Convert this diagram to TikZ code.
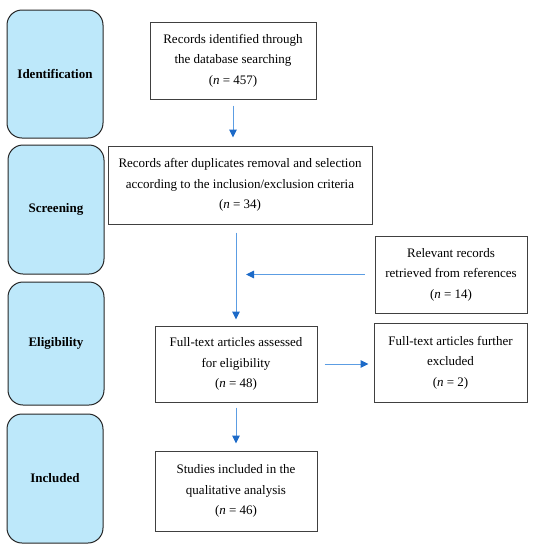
\documentclass[tikz,border=0pt]{standalone}
\usepackage{fontspec}
\setmainfont{Liberation Serif}
\usetikzlibrary{arrows.meta}
\definecolor{stagefill}{HTML}{BDE8FA}
\definecolor{flowblue}{HTML}{5C9DE3}
\definecolor{flowdark}{HTML}{1C6AC8}
\begin{document}
\begin{tikzpicture}[
      x=1pt,y=-1pt,
      every node/.style={font=\fontsize{13}{20.5}\selectfont},
      stage/.style={draw=black!85,fill=stagefill,rounded corners=15pt,line width=1pt,
        minimum width=96pt,font=\fontsize{13}{20.5}\selectfont\bfseries},
      recbox/.style={draw=black!75,line width=1pt,align=center,inner sep=0pt},
      flow/.style={draw=flowblue,line width=1pt,-{Triangle[length=8pt,width=7.5pt,color=flowdark]}}
    ]
    \useasboundingbox (0,0) rectangle (538,550);
    \node[stage,minimum height=128pt] (ident) at (55,74) {Identification};
    \node[stage,minimum height=129pt] (screen) at (56,209.5) {Screening};
    \node[stage,minimum height=123pt] (elig) at (56,343.5) {Eligibility};
    \node[stage,minimum height=129pt] (incl) at (55,478.5) {Included};

    \node[recbox,minimum width=166pt,minimum height=77pt] (found) at (233,60.5)
      {Records identified through\\the database searching\\(\textit{n} = 457)};
    \node[recbox,minimum width=264pt,minimum height=78pt] (dedup) at (240,185)
      {Records after duplicates removal and selection\\according to the inclusion/exclusion criteria\\(\textit{n} = 34)};
    \node[recbox,minimum width=152pt,minimum height=77pt] (refs) at (451,274.5)
      {Relevant records\\retrieved from references\\(\textit{n} = 14)};
    \node[recbox,minimum width=162pt,minimum height=76pt] (fulltext) at (236,364)
      {Full-text articles assessed\\for eligibility\\(\textit{n} = 48)};
    \node[recbox,minimum width=153pt,minimum height=79pt] (excl) at (450.5,362.5)
      {Full-text articles further\\excluded\\(\textit{n} = 2)};
    \node[recbox,minimum width=162pt,minimum height=80pt] (studies) at (236,491)
      {Studies included in the\\qualitative analysis\\(\textit{n} = 46)};

    \draw[flow,shorten <=6pt,shorten >=8pt] (found.south) -- (found.south |- dedup.north);
    \draw[flow,shorten <=8pt,shorten >=6pt] (fulltext.north |- dedup.south) -- (fulltext.north);
    \draw[flow,shorten <=10pt,shorten >=10pt] (refs.west) -- (refs.west -| fulltext.north);
    \draw[flow,shorten <=7pt,shorten >=5pt] (fulltext.east) -- (fulltext.east -| excl.west);
    \draw[flow,shorten <=5pt,shorten >=7pt] (fulltext.south) -- (studies.north);
\end{tikzpicture}
\end{document}
